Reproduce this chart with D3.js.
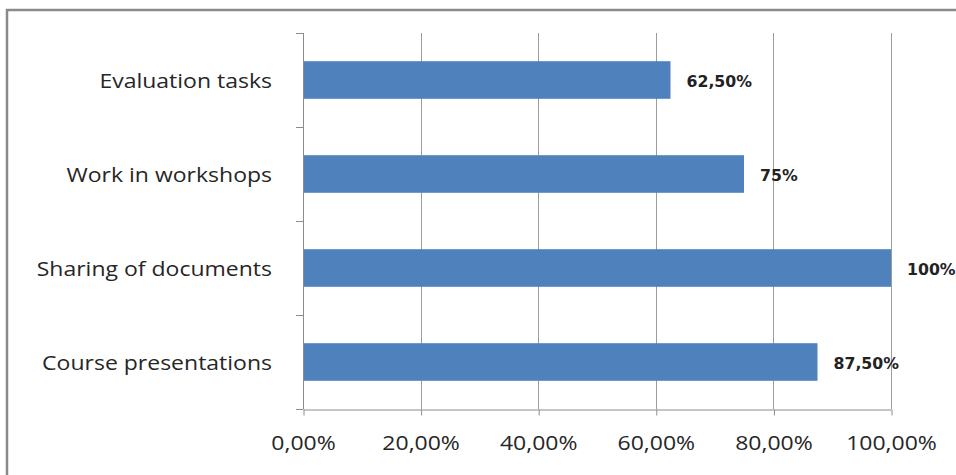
<!DOCTYPE html>
<html>
<head>
<meta charset="utf-8">
<script src="https://cdn.jsdelivr.net/npm/d3@7"></script>
<style>
  html, body { margin: 0; padding: 0; background: #fff; }
  svg { display: block; }
</style>
</head>
<body>
<svg id="chart" width="956" height="475"></svg>
<script>
// Categories listed top to bottom, with their shares (0–1)
const categories = ["Evaluation tasks", "Work in workshops", "Sharing of documents", "Course presentations"];
const shares = [0.625, 0.75, 1.0, 0.875];
const xTicks = [0, 0.2, 0.4, 0.6, 0.8, 1.0];

const svg = d3.select("#chart");
const W = 956, H = 475;
const plot = { left: 303, right: 891, top: 33, bottom: 409 };
const stretch = 1.15; // horizontal widening of the label typeface

const locale = d3.formatLocale({ decimal: ",", thousands: ".", grouping: [3], currency: ["", "€"], percent: "%" });
const tickFmt = locale.format(".2%");
// whole percentages drop the decimals, others keep two
const labelFmt = v => Number.isInteger(Math.round(v * 10000) / 100)
  ? locale.format(".0%")(v) : locale.format(".2%")(v);

const x = d3.scaleLinear().domain([0, 1]).range([plot.left, plot.right]);
const y = d3.scaleBand().domain(categories).range([plot.top, plot.bottom])
  .paddingInner(0.6).paddingOuter(0.3);

// outer frame
svg.append("rect")
  .attr("x", 7).attr("y", 10).attr("width", W + 20).attr("height", H + 20)
  .attr("fill", "none").attr("stroke", "#8a8a8a").attr("stroke-width", 2.5);

// vertical gridlines
svg.append("g").selectAll("line").data(xTicks.filter(d => d > 0)).join("line")
  .attr("x1", d => Math.round(x(d)) + 0.5).attr("x2", d => Math.round(x(d)) + 0.5)
  .attr("y1", plot.top).attr("y2", plot.bottom)
  .attr("stroke", "#9c9c9c").attr("stroke-width", 1);

// bars
svg.append("g").selectAll("rect").data(categories).join("rect")
  .attr("x", x(0)).attr("y", d => y(d))
  .attr("width", (d, i) => x(shares[i]) - x(0))
  .attr("height", y.bandwidth())
  .attr("fill", "#4F81BD");

// category axis with ticks on the band boundaries
const yAxis = svg.append("g");
yAxis.append("line")
  .attr("x1", plot.left + 0.5).attr("x2", plot.left + 0.5)
  .attr("y1", plot.top).attr("y2", plot.bottom)
  .attr("stroke", "#8c8c8c");
yAxis.selectAll("line.b").data(d3.range(categories.length + 1)).join("line")
  .attr("class", "b")
  .attr("x1", plot.left - 7).attr("x2", plot.left)
  .attr("y1", i => Math.round(plot.top + i * y.step()) + 0.5)
  .attr("y2", i => Math.round(plot.top + i * y.step()) + 0.5)
  .attr("stroke", "#8c8c8c");

yAxis.selectAll("text").data(categories).join("text")
  .attr("transform", d => `translate(272,${y(d) + y.bandwidth() / 2 + 7.5}) scale(${stretch},1)`)
  .attr("text-anchor", "end")
  .attr("font-family", "'Open Sans', sans-serif")
  .attr("font-size", 20)
  .attr("fill", "#262626")
  .text(d => d);

// value axis
const xAxis = svg.append("g")
  .attr("transform", `translate(0,${plot.bottom + 0.5})`)
  .call(d3.axisBottom(x).tickValues(xTicks).tickFormat(tickFmt).tickSize(6).tickSizeOuter(0).tickPadding(0));
xAxis.select(".domain").attr("stroke", "#8c8c8c");
xAxis.selectAll(".tick line").attr("stroke", "#8c8c8c")
  .attr("transform", "translate(0.5,0)");
xAxis.selectAll(".tick text")
  .attr("dy", null).attr("y", 41)
  .attr("transform", `scale(${stretch},1)`)
  .attr("font-family", "'Open Sans', sans-serif")
  .attr("font-size", 20)
  .attr("fill", "#262626");

// value labels
svg.append("g").selectAll("text").data(categories).join("text")
  .attr("transform", (d, i) => `translate(${x(shares[i]) + 16},${y(d) + y.bandwidth() / 2 + 7}) scale(1.05,1)`)
  .attr("font-family", "'DejaVu Sans', sans-serif")
  .attr("font-weight", "bold")
  .attr("font-size", 15)
  .attr("fill", "#222")
  .text((d, i) => labelFmt(shares[i]));
</script>
</body>
</html>
